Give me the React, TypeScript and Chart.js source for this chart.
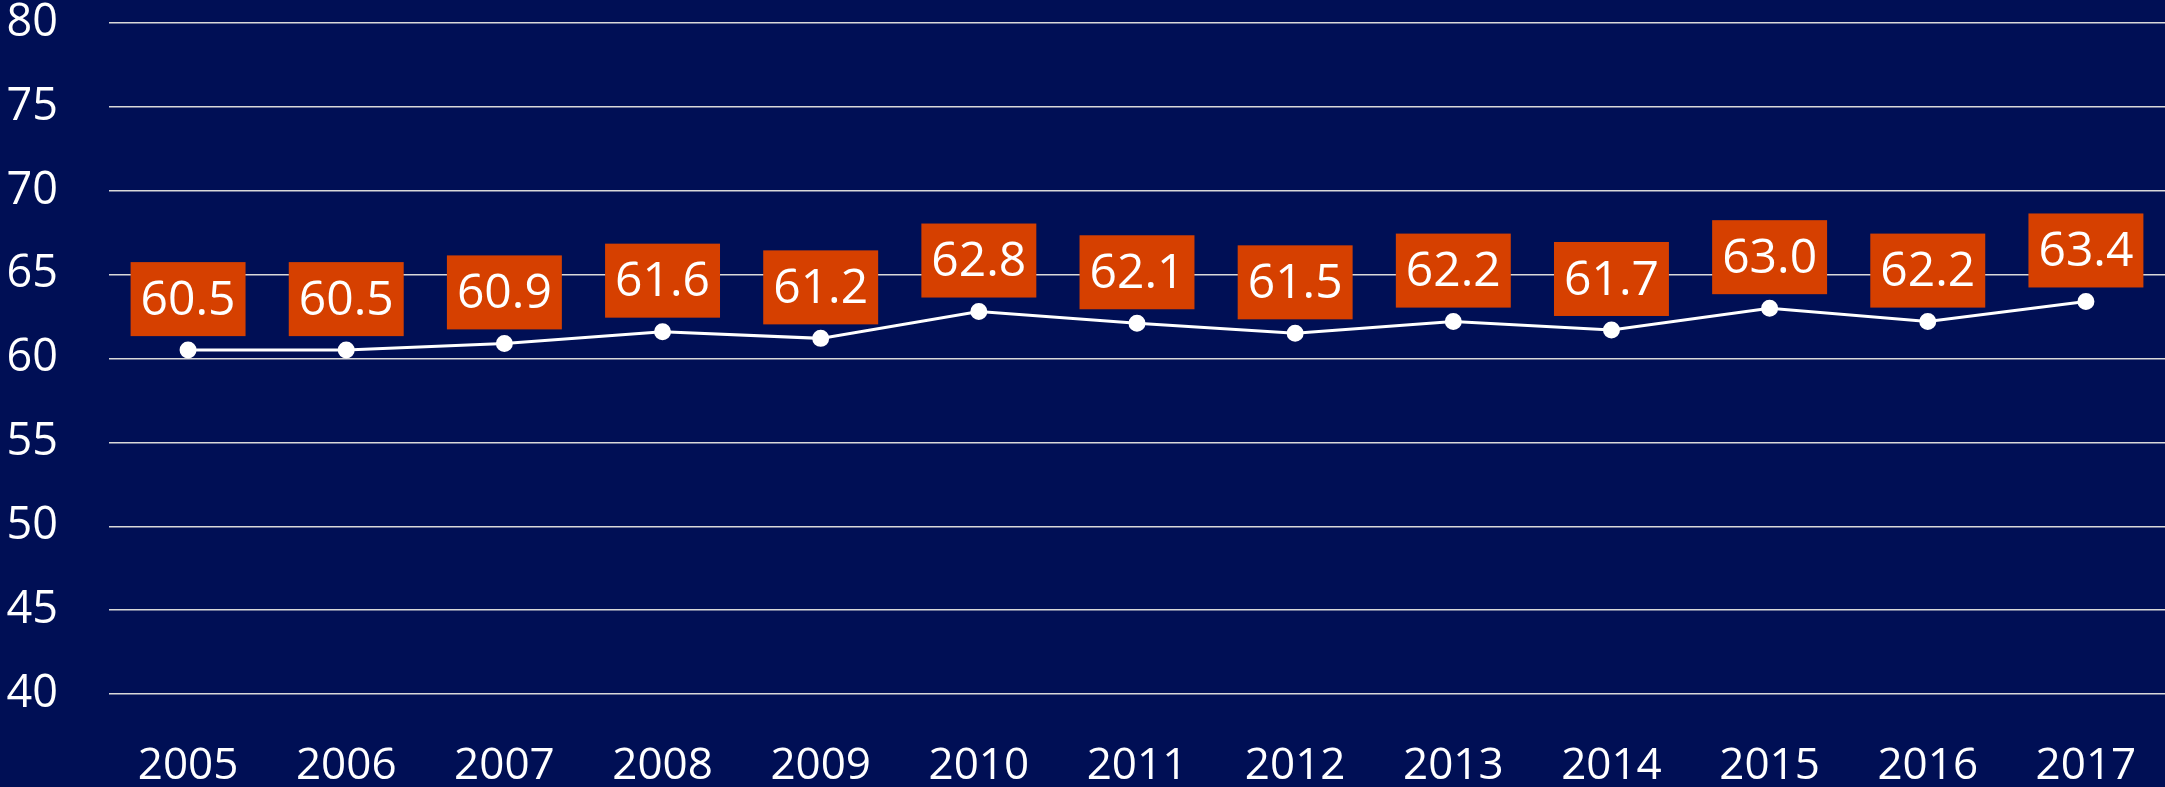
import React, { useEffect, useRef } from "react";
import { Chart, registerables } from "chart.js";

Chart.register(...registerables);

const years = ["2005", "2006", "2007", "2008", "2009", "2010", "2011", "2012", "2013", "2014", "2015", "2016", "2017"];
const values = [60.5, 60.5, 60.9, 61.6, 61.2, 62.8, 62.1, 61.5, 62.2, 61.7, 63.0, 62.2, 63.4];
const yMin = 40;
const yMax = 80;
const yStep = 5;

const BG = "#000F55";
const ORANGE = "#D64000";
const FONT = "'Open Sans', 'Noto Sans', sans-serif";

const labelPlugin = {
  id: "boxLabels",
  afterDatasetsDraw(chart: any) {
    const ctx = chart.ctx;
    const meta = chart.getDatasetMeta(0);
    ctx.save();
    ctx.font = `48px ${FONT}`;
    ctx.textAlign = "center";
    ctx.textBaseline = "middle";
    meta.data.forEach((pt: any, i: number) => {
      const txt = values[i].toFixed(1);
      const w = ctx.measureText(txt).width + 20;
      const h = 74;
      const bottom = pt.y - 14;
      ctx.fillStyle = ORANGE;
      ctx.fillRect(pt.x - w / 2, bottom - h, w, h);
      ctx.fillStyle = "#ffffff";
      ctx.fillText(txt, pt.x, bottom - h / 2 + 2);
    });
    ctx.restore();
  },
};

const bgPlugin = {
  id: "bg",
  beforeDraw(chart: any) {
    const ctx = chart.ctx;
    ctx.save();
    ctx.fillStyle = BG;
    ctx.fillRect(0, 0, chart.width, chart.height);
    ctx.restore();
  },
};

export default function App() {
  const ref = useRef<HTMLCanvasElement>(null);
  useEffect(() => {
    document.body.style.margin = "0";
    document.body.style.background = BG;
    const chart = new Chart(ref.current!, {
      type: "line",
      data: {
        labels: years,
        datasets: [
          {
            data: values,
            borderColor: "#ffffff",
            borderWidth: 3,
            pointBackgroundColor: "#ffffff",
            pointBorderColor: "#ffffff",
            pointRadius: 7,
            tension: 0,
            clip: false,
          },
        ],
      },
      options: {
        animation: false,
        responsive: false,
        maintainAspectRatio: false,
        layout: { autoPadding: false, padding: { top: 23, right: 0, left: 0, bottom: 0 } },
        plugins: { legend: { display: false }, tooltip: { enabled: false } },
        scales: {
          x: {
            offset: true,
            grid: { display: false, drawTicks: false },
            border: { display: false },
            ticks: { color: "#ffffff", font: { family: FONT, size: 44 }, padding: 46, maxRotation: 0, autoSkip: false },
            afterFit(scale: any) {
              scale.height = 93;
              scale.paddingLeft = 0;
              scale.paddingRight = 0;
            },
          },
          y: {
            min: yMin,
            max: yMax,
            grid: { color: "#d9d9d9", lineWidth: 1.5, drawTicks: false },
            border: { display: false },
            ticks: { stepSize: yStep, color: "#ffffff", font: { family: FONT, size: 45, lineHeight: 1 }, padding: 51 },
            afterFit(scale: any) {
              scale.width = 109;
              scale.paddingTop = 0;
              scale.paddingBottom = 0;
            },
          },
        },
      },
      plugins: [bgPlugin, labelPlugin],
    });
    return () => chart.destroy();
  }, []);
  return (
    <div style={{ position: "absolute", left: 0, top: 0, width: 2165, height: 787 }}>
      <canvas ref={ref} width={2165} height={787} style={{ display: "block" }} />
    </div>
  );
}
